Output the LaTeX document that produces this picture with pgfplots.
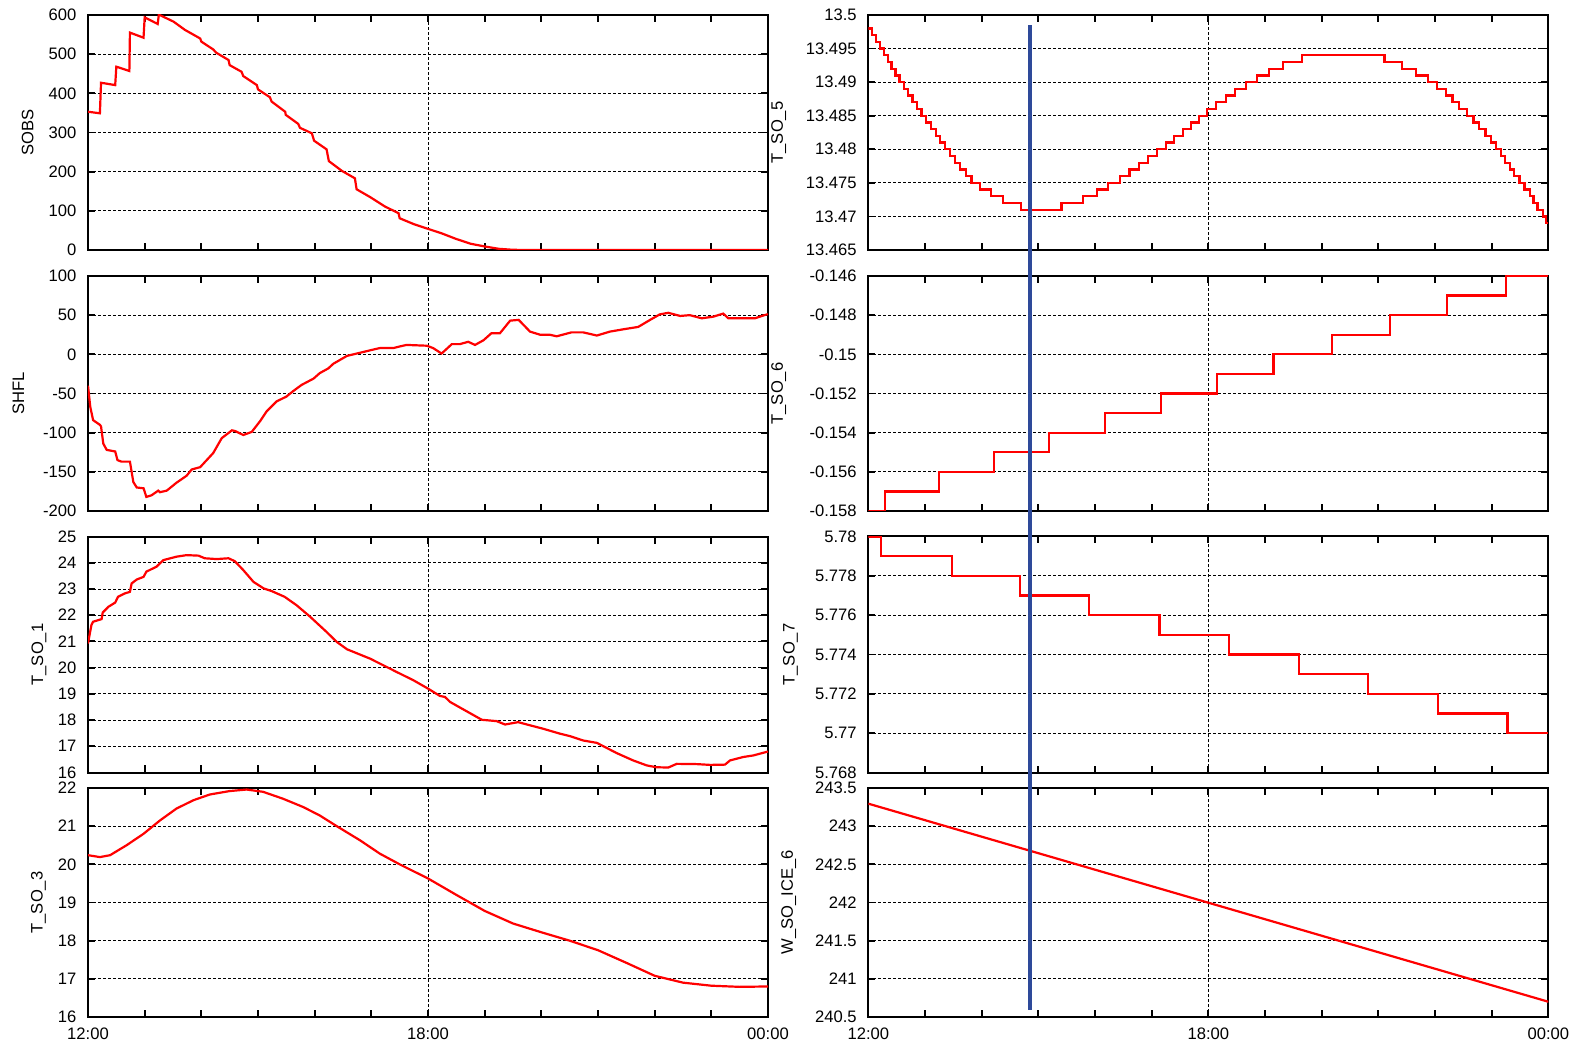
\documentclass[border=0pt]{standalone}
\usepackage{fontspec}
\setmainfont{Liberation Sans}
\usepackage{pgfplots}
\pgfplotsset{compat=1.18}

\definecolor{cursorblue}{RGB}{46,74,154}

\pgfplotsset{
  panel/.style={
    scale only axis, width=340pt, anchor=south west,
    xmin=0, xmax=12, xtick={0,...,12}, xticklabels={},
    tick align=inside, major tick length=3.5pt,
    axis line style={line width=1pt},
    every tick/.style={black, line width=0.9pt},
    ymajorgrids,
    grid style={black, line width=0.45pt, dash pattern=on 1.5pt off 1pt},
    extra x ticks={6}, extra x tick labels={}, extra x tick style={grid=major},
    tick label style={font=\fontsize{8.3}{10}\selectfont},
    label style={font=\fontsize{8.3}{10}\selectfont},
    /pgf/number format/assume math mode=true,
    scaled y ticks=false,
    yticklabel style={xshift=-2.3pt},
    xticklabel style={yshift=-2pt},
  },
  ylab/.style={ylabel style={at={(rel axis cs:-#1,0.5)}, anchor=base, inner sep=0pt}},
  timeaxis/.style={xticklabels={12:00,,,,,,18:00,,,,,,00:00}},
  curve/.style={red, line width=1.1pt, no markers},
}

\begin{document}
\begin{tikzpicture}
\useasboundingbox (0,0) rectangle (788.5pt,522pt);

% ---------------- left column ----------------
\begin{axis}[panel, at={(44pt,397pt)}, height=117.5pt,
  ymin=0, ymax=600, ytick={0,100,...,600}, ylabel={SOBS}, ylab=0.0804]
\addplot[curve] coordinates {
(0,353)(0.21,349)(0.23,427)(0.48,421)(0.50,468)(0.73,457)(0.74,555)(0.98,542)
(1.00,594)(1.23,577)(1.25,601)(1.51,583)(1.71,562)(1.98,540)(2.00,532)(2.21,512)
(2.26,504)(2.48,485)(2.50,472)(2.71,455)(2.74,444)(2.98,421)(3.00,410)(3.21,390)
(3.24,379)(3.48,353)(3.49,345)(3.71,322)(3.74,312)(3.95,298)(3.99,279)(4.21,257)
(4.25,227)(4.48,202)(4.71,183)(4.74,155)(4.98,135)(5.24,111)(5.48,94)(5.50,81)
(5.75,66)(6.00,54)(6.25,42)(6.50,28)(6.75,16)(7.00,9)(7.25,3)(7.50,0.5)(7.75,0)(12,0)};
\end{axis}

\begin{axis}[panel, at={(44pt,266.5pt)}, height=117.5pt,
  ymin=-200, ymax=100, ytick={-200,-150,...,100}, ylabel={SHFL}, ylab=0.0941]
\addplot[curve] coordinates {
(0,-40)(0.04,-67)(0.09,-84)(0.21,-90)(0.23,-92)(0.27,-114)(0.33,-122)(0.48,-124)
(0.52,-135)(0.59,-137)(0.74,-137)(0.80,-163)(0.86,-170)(0.98,-171)(1.03,-182)
(1.12,-180)(1.24,-174)(1.27,-176)(1.39,-174)(1.56,-164)(1.74,-155)(1.83,-147)
(1.98,-144)(2.21,-126)(2.36,-107)(2.54,-97)(2.60,-98)(2.74,-103)(2.89,-99)(3.04,-85)
(3.15,-73)(3.33,-60)(3.50,-54)(3.62,-47)(3.77,-39)(3.98,-31)(4.09,-24)(4.24,-18)
(4.33,-12)(4.57,-2)(4.80,2)(5.03,6)(5.15,8)(5.39,8)(5.50,10)(5.62,12)(5.98,11)
(6.09,8)(6.24,1)(6.42,13)(6.56,13)(6.71,16)(6.83,12)(6.98,18)(7.12,27)(7.27,27)
(7.45,43)(7.60,44)(7.80,29)(7.98,25)(8.15,25)(8.27,23)(8.53,28)(8.74,28)(8.98,24)
(9.21,29)(9.45,32)(9.71,35)(9.92,44)(10.09,51)(10.24,53)(10.45,49)(10.62,50)
(10.83,46)(11.03,48)(11.21,52)(11.30,46)(11.56,46)(11.77,46)(11.98,51)(12,51)};
\end{axis}

\begin{axis}[panel, at={(44pt,135.75pt)}, height=118pt,
  ymin=16, ymax=25, ytick={16,...,25}, ylabel={T\_SO\_1}, ylab=0.0659]
\addplot[curve] coordinates {
(0,20.92)(0.06,21.62)(0.09,21.75)(0.24,21.85)(0.26,22.1)(0.36,22.32)(0.48,22.48)
(0.53,22.7)(0.65,22.83)(0.74,22.89)(0.77,23.21)(0.86,23.36)(0.98,23.46)(1.03,23.66)
(1.21,23.85)(1.33,24.1)(1.56,24.23)(1.74,24.29)(1.95,24.27)(2.06,24.17)(2.27,24.14)
(2.48,24.17)(2.59,24.06)(2.74,23.72)(2.92,23.27)(3.10,23.02)(3.24,22.92)(3.47,22.7)
(3.68,22.38)(3.92,21.94)(4.21,21.36)(4.39,20.98)(4.57,20.7)(4.98,20.34)(5.45,19.83)
(5.74,19.52)(6.00,19.2)(6.21,18.92)(6.30,18.88)(6.39,18.69)(6.62,18.41)(6.95,18.01)
(7.21,17.96)(7.36,17.83)(7.59,17.92)(7.80,17.8)(8.03,17.67)(8.33,17.48)(8.50,17.39)
(8.74,17.22)(8.98,17.13)(9.33,16.74)(9.62,16.46)(9.86,16.27)(10.03,16.2)(10.24,16.19)
(10.39,16.33)(10.74,16.32)(10.98,16.29)(11.24,16.3)(11.33,16.46)(11.56,16.59)
(11.74,16.65)(12,16.8)};
\end{axis}

\begin{axis}[panel, timeaxis, at={(44pt,13.5pt)}, height=114.5pt,
  ymin=16, ymax=22, ytick={16,...,22}, ylabel={T\_SO\_3}, ylab=0.0666]
\addplot[curve] coordinates {
(0,20.24)(0.21,20.19)(0.39,20.24)(0.68,20.5)(0.98,20.8)(1.27,21.15)(1.56,21.46)
(1.86,21.68)(2.15,21.83)(2.5,21.92)(2.8,21.96)(3.09,21.9)(3.44,21.72)(3.8,21.5)
(4.09,21.28)(4.39,21.0)(4.8,20.63)(5.15,20.28)(5.5,20.0)(6.0,19.63)(6.5,19.2)
(7.0,18.78)(7.5,18.45)(8.0,18.22)(8.5,18.0)(9.0,17.75)(9.5,17.42)(10.0,17.08)
(10.5,16.9)(11.0,16.82)(11.5,16.79)(12,16.8)};
\end{axis}

% ---------------- right column ----------------
\begin{axis}[panel, at={(434.15pt,397pt)}, height=117.5pt,
  ymin=13.465, ymax=13.5,
  ytick={13.465,13.47,13.475,13.48,13.485,13.49,13.495,13.5},
  /pgf/number format/.cd, fixed, precision=3, /pgfplots/.cd,
  ylabel={T\_SO\_5}, ylab=0.1258]
\addplot[curve, const plot] coordinates {
(0,13.498)(0.07,13.497)(0.14,13.496)(0.21,13.495)(0.28,13.494)(0.35,13.493)
(0.41,13.492)(0.48,13.491)(0.55,13.490)(0.63,13.489)(0.70,13.488)(0.78,13.487)
(0.86,13.486)(0.94,13.485)(1.02,13.484)(1.10,13.483)(1.19,13.482)(1.27,13.481)
(1.35,13.480)(1.44,13.479)(1.53,13.478)(1.62,13.477)(1.72,13.476)(1.82,13.475)
(1.97,13.474)(2.16,13.473)(2.38,13.472)(2.69,13.471)(3.41,13.472)(3.79,13.473)
(4.04,13.474)(4.23,13.475)(4.44,13.476)(4.61,13.477)(4.78,13.478)(4.94,13.479)
(5.10,13.480)(5.25,13.481)(5.40,13.482)(5.55,13.483)(5.70,13.484)(5.83,13.485)
(5.97,13.486)(6.13,13.487)(6.31,13.488)(6.47,13.489)(6.66,13.490)(6.86,13.491)
(7.07,13.492)(7.32,13.493)(7.66,13.494)(9.11,13.493)(9.42,13.492)(9.67,13.491)
(9.87,13.490)(10.03,13.489)(10.19,13.488)(10.31,13.487)(10.43,13.486)(10.57,13.485)
(10.68,13.484)(10.78,13.483)(10.89,13.482)(10.99,13.481)(11.08,13.480)(11.17,13.479)
(11.24,13.478)(11.33,13.477)(11.40,13.476)(11.49,13.475)(11.58,13.474)(11.67,13.473)
(11.74,13.472)(11.81,13.471)(11.90,13.470)(11.96,13.469)(12,13.469)};
\coordinate (cursortop) at (axis cs:2.85,13.4985);
\end{axis}

\begin{axis}[panel, at={(434.15pt,266.5pt)}, height=117.5pt,
  ymin=-0.158, ymax=-0.146,
  ytick={-0.158,-0.156,-0.154,-0.152,-0.15,-0.148,-0.146},
  /pgf/number format/.cd, fixed, precision=3, /pgfplots/.cd,
  ylabel={T\_SO\_6}, ylab=0.1258]
\addplot[curve, const plot] coordinates {
(0,-0.158)(0.30,-0.157)(1.25,-0.156)(2.22,-0.155)(3.19,-0.154)(4.17,-0.153)
(5.17,-0.152)(6.16,-0.151)(7.15,-0.150)(8.18,-0.149)(9.20,-0.148)(10.21,-0.147)
(11.25,-0.146)(12,-0.146)};
\end{axis}

\begin{axis}[panel, at={(434.15pt,135.75pt)}, height=118pt,
  ymin=5.768, ymax=5.78,
  ytick={5.768,5.77,5.772,5.774,5.776,5.778,5.78},
  /pgf/number format/.cd, fixed, precision=3, /pgfplots/.cd,
  ylabel={T\_SO\_7}, ylab=0.1085]
\addplot[curve, const plot] coordinates {
(0,5.780)(0.22,5.779)(1.47,5.778)(2.67,5.777)(3.90,5.776)(5.14,5.775)(6.36,5.774)
(7.60,5.773)(8.82,5.772)(10.05,5.771)(11.28,5.770)(12,5.770)};
\end{axis}

\begin{axis}[panel, timeaxis, at={(434.15pt,13.5pt)}, height=114.5pt,
  ymin=240.5, ymax=243.5,
  ytick={240.5,241,241.5,242,242.5,243,243.5},
  ylabel={W\_SO\_ICE\_6}, ylab=0.1111]
\addplot[curve] coordinates {(0,243.295)(12,240.70)};
\coordinate (cursorbot) at (axis cs:2.85,240.59);
\end{axis}

% time cursor across the right column
\draw[cursorblue, line width=2.15pt] (cursortop) -- (cursorbot);
\end{tikzpicture}
\end{document}
